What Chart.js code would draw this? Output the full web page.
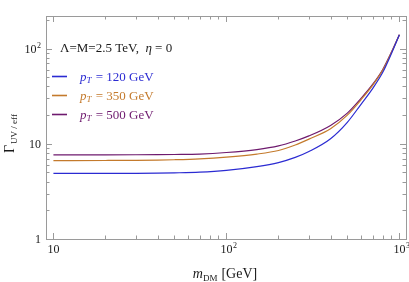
<!DOCTYPE html>
<html>
<head>
<meta charset="utf-8">
<script src="https://cdn.jsdelivr.net/npm/chart.js@4"></script>
<style>
  html, body { margin: 0; padding: 0; background: #fff; }
  #wrap { width: 409px; height: 282px; }
</style>
</head>
<body>
<div id="wrap"><canvas id="gammaChart" width="409" height="282"></canvas></div>
<script>
// DM mass (GeV) and Gamma_UV/eff for each pT
const massValues = [10, 20, 30, 40, 50, 70, 100, 150, 200, 250, 300, 400, 500, 600, 700, 800, 900, 1000];
const gammaPt120 = [4.88, 4.89, 4.9, 4.92, 4.95, 5.03, 5.25, 5.75, 6.35, 7.2, 8.3, 11.3, 16.8, 26, 38, 56, 89, 140];
const gammaPt350 = [6.67, 6.68, 6.7, 6.74, 6.8, 6.95, 7.25, 7.8, 8.5, 9.7, 11.2, 14.4, 20, 29, 41, 59, 91, 140];
const gammaPt500 = [7.66, 7.66, 7.67, 7.69, 7.72, 7.8, 8.1, 8.7, 9.5, 10.7, 12.1, 15.6, 21, 30, 42, 60, 92, 140];
const ptLabels = ['120', '350', '500'];
const lineColors = ['#2b2bd2', '#c47a2c', '#6e1a6e'];
const xTickLabels = ['10', '10^2', '10^3'];
const yTickLabels = ['1', '10', '10^2'];

const serif = '"Liberation Serif", "DejaVu Serif", serif';

function toPoints(vals) {
    return massValues.map((m, i) => ({ x: m, y: vals[i] }));
}

// draw "10^2" style label; align: 'center' or 'right'
function powerLabel(ctx, txt, x, y, align) {
    const parts = txt.split('^');
    ctx.font = '12px ' + serif;
    const w1 = ctx.measureText(parts[0]).width;
    ctx.font = '8px ' + serif;
    const w2 = parts[1] ? ctx.measureText(parts[1]).width + 0.5 : 0;
    const total = w1 + w2;
    let x0 = align === 'right' ? x - total : x - w1 / 2;
    ctx.textAlign = 'left';
    ctx.font = '12px ' + serif;
    ctx.fillText(parts[0], x0, y);
    if (parts[1]) {
        ctx.font = '8px ' + serif;
        ctx.fillText(parts[1], x0 + w1 + 0.5, y - 5);
    }
}

function drawRuns(ctx, runs, x, y) {
    ctx.textAlign = 'left';
    let cx = x;
    runs.forEach(r => {
        ctx.font = r.font;
        ctx.fillText(r.t, cx, y + (r.dy || 0));
        cx += ctx.measureText(r.t).width + (r.gap || 0);
    });
}

const framePlugin = {
    id: 'framePlugin',
    afterDraw(chart) {
        const ctx = chart.ctx;
        const a = chart.chartArea;
        const xs = chart.scales.x, ys = chart.scales.y;
        ctx.save();
        ctx.strokeStyle = '#9a9a9a';
        ctx.lineWidth = 1;
        ctx.strokeRect(Math.round(a.left) + 0.5, Math.round(a.top) + 0.5,
            Math.round(a.right - a.left), Math.round(a.bottom - a.top));

        // ticks on all four sides
        ctx.beginPath();
        for (let d = 1; d <= 1000; d *= 10) {
            for (let k = 1; k <= 9; k++) {
                const v = d * k;
                if (v < xs.min || v > xs.max) continue;
                const px = Math.round(xs.getPixelForValue(v)) + 0.5;
                const len = k === 1 ? 6 : 3.5;
                ctx.moveTo(px, a.bottom); ctx.lineTo(px, a.bottom - len);
                ctx.moveTo(px, a.top); ctx.lineTo(px, a.top + len);
            }
        }
        for (let d = 1; d <= 100; d *= 10) {
            for (let k = 1; k <= 9; k++) {
                const v = d * k;
                if (v < ys.min || v > ys.max) continue;
                const py = Math.round(ys.getPixelForValue(v)) + 0.5;
                const len = k === 1 ? 6 : 3.5;
                ctx.moveTo(a.left, py); ctx.lineTo(a.left + len, py);
                ctx.moveTo(a.right, py); ctx.lineTo(a.right - len, py);
            }
        }
        ctx.stroke();

        // tick labels
        ctx.fillStyle = '#1a1a1a';
        ctx.textBaseline = 'alphabetic';
        xTickLabels.forEach(lbl => {
            const v = Math.pow(10, lbl.includes('^') ? +lbl.split('^')[1] : 1);
            powerLabel(ctx, lbl, xs.getPixelForValue(v), 253, 'center');
        });
        yTickLabels.forEach(lbl => {
            const v = lbl === '1' ? 1 : Math.pow(10, lbl.includes('^') ? +lbl.split('^')[1] : 1);
            powerLabel(ctx, lbl, 41, ys.getPixelForValue(v) + 4, 'right');
        });

        // x axis title
        const xr = [
            { t: 'm', font: 'italic 14px ' + serif },
            { t: 'DM', font: '9px ' + serif, dy: 3, gap: 4 },
            { t: '[GeV]', font: '14px ' + serif }
        ];
        let w = 0;
        xr.forEach(r => { ctx.font = r.font; w += ctx.measureText(r.t).width + (r.gap || 0); });
        drawRuns(ctx, xr, 225 - w / 2, 278);

        // y axis title (rotated)
        ctx.save();
        ctx.translate(14, 153);
        ctx.rotate(-Math.PI / 2);
        drawRuns(ctx, [
            { t: '\u0393', font: '14px ' + serif, gap: 1 },
            { t: 'UV / eff', font: '9px ' + serif, dy: 3 }
        ], 0, 0);
        ctx.restore();

        // annotation
        drawRuns(ctx, [
            { t: '\u039B=M=2.5 TeV,  ', font: '13px ' + serif },
            { t: '\u03B7', font: 'italic 13px ' + serif },
            { t: ' = 0', font: '13px ' + serif }
        ], 60, 52);

        // legend
        ptLabels.forEach((pt, i) => {
            const y = 76.5 + i * 19;
            ctx.strokeStyle = lineColors[i];
            ctx.lineWidth = 1.6;
            ctx.beginPath();
            ctx.moveTo(52, y); ctx.lineTo(67, y);
            ctx.stroke();
            ctx.fillStyle = lineColors[i];
            drawRuns(ctx, [
                { t: 'p', font: 'italic 13px ' + serif },
                { t: 'T', font: 'italic 9px ' + serif, dy: 2, gap: 1 },
                { t: ' = ' + pt + ' GeV', font: '13px ' + serif }
            ], 80, y + 4);
        });
        ctx.restore();
    }
};

const seriesList = [gammaPt120, gammaPt350, gammaPt500];

new Chart(document.getElementById('gammaChart'), {
    type: 'line',
    data: {
        datasets: seriesList.map((vals, i) => ({
            label: 'pT = ' + ptLabels[i] + ' GeV',
            data: toPoints(vals),
            borderColor: lineColors[i],
            borderWidth: 1.2,
            pointRadius: 0,
            fill: false,
            cubicInterpolationMode: 'monotone'
        }))
    },
    options: {
        responsive: false,
        animation: false,
        events: [],
        layout: { padding: { left: 46, right: 3, top: 16, bottom: 43 } },
        plugins: { legend: { display: false }, tooltip: { enabled: false } },
        scales: {
            x: { type: 'logarithmic', min: 9.06, max: 1092, display: false },
            y: { type: 'logarithmic', min: 1, max: 220, display: false }
        }
    },
    plugins: [framePlugin]
});
</script>
</body>
</html>
